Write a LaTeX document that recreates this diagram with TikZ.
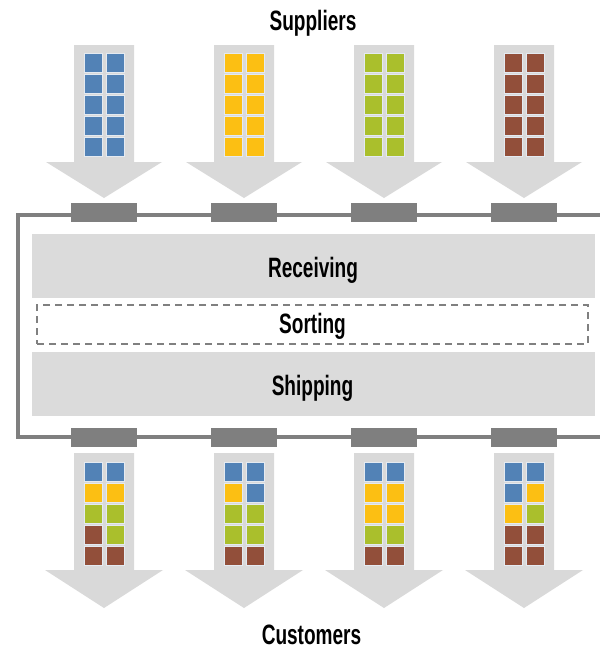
\documentclass[tikz,border=0pt]{standalone}
\usepackage{fontspec}
\newfontfamily\lblfont[FakeStretch=0.68]{Liberation Sans Bold}
\definecolor{arrowgray}{HTML}{D9D9D9}
\definecolor{bandgray}{HTML}{DBDBDB}
\definecolor{doorgray}{HTML}{7F7F7F}
\definecolor{dashgray}{HTML}{808080}
\definecolor{boxedge}{HTML}{E4EAF1}
\definecolor{cblue}{HTML}{5282B6}
\definecolor{cyellow}{HTML}{FCBF13}
\definecolor{cgreen}{HTML}{AABF2C}
\definecolor{cbrown}{HTML}{924F3A}
\begin{document}
\begin{tikzpicture}[x=1pt,y=-1pt,
  door/.style={fill=doorgray, draw=none, minimum width=66pt, minimum height=19pt, inner sep=0pt},
  band/.style={fill=bandgray, draw=none, minimum width=563pt, minimum height=64pt, inner sep=0pt},
  sortbox/.style={draw=dashgray, line width=1.5pt, dash pattern=on 7pt off 5pt, fill=white, minimum width=551pt, minimum height=39pt, inner sep=0pt},
  lbl/.style={font=\lblfont\fontsize{28}{30}\selectfont, anchor=base, inner sep=0pt},
  sq/.style={inner sep=0pt, minimum width=18pt, minimum height=19pt, draw=boxedge, line width=0.8pt},
  wall/.style={draw=doorgray, line width=4pt}]
\useasboundingbox (0,0) rectangle (600,651);
\fill[white] (0,0) rectangle (600,651);

% titles
\node[lbl] (suppliers) at (313,30) {Suppliers};
\node[lbl] (customers) at (311.5,644) {Customers};

% top arrows (suppliers)
\foreach \c/\col [count=\i] in {104/cblue,244/cyellow,384/cgreen,524/cbrown} {
  \fill[arrowgray] (\c-30,45) -- (\c+30,45) -- (\c+30,162) -- (\c+58,162) -- (\c,198) -- (\c-58,162) -- (\c-30,162) -- cycle;
  \foreach \r in {0,...,4} {
    \node[sq,fill=\col] (ts-\i-\r-a) at (\c-11,62.5+21*\r) {};
    \node[sq,fill=\col] (ts-\i-\r-b) at (\c+11,62.5+21*\r) {};
  }
}

% building wall
\draw[wall] (600,215) -- (18,215) -- (18,437) -- (600,437);
\foreach \c [count=\i] in {104,244,384,524} {
  \node[door] (tdoor\i) at (\c,212.5) {};
  \node[door] (bdoor\i) at (\c,437.5) {};
}

% areas
\node[band] (recv) at (313.5,265.5) {};
\node[lbl] (recvlbl) at (313,277) {Receiving};
\node[sortbox] (sort) at (312.5,324.5) {};
\node[lbl] (sortlbl) at (312.5,333) {Sorting};
\node[band] (ship) at (313.5,383.5) {};
\node[lbl] (shiplbl) at (312.5,395) {Shipping};

% bottom arrows (customers)
\foreach \c in {104,244,384,524} {
  \fill[arrowgray] (\c-30,453) -- (\c+30,453) -- (\c+30,570) -- (\c+59,570) -- (\c,608) -- (\c-59,570) -- (\c-30,570) -- cycle;
}
\foreach \r/\L/\R in {0/cblue/cblue,1/cyellow/cyellow,2/cgreen/cgreen,3/cbrown/cgreen,4/cbrown/cbrown} {
  \node[sq,fill=\L] (bs-1-\r-a) at (93,471.5+21.2*\r) {};
  \node[sq,fill=\R] (bs-1-\r-b) at (115,471.5+21.2*\r) {};
}
\foreach \r/\L/\R in {0/cblue/cblue,1/cyellow/cblue,2/cgreen/cgreen,3/cgreen/cgreen,4/cbrown/cbrown} {
  \node[sq,fill=\L] (bs-2-\r-a) at (233,471.5+21.2*\r) {};
  \node[sq,fill=\R] (bs-2-\r-b) at (255,471.5+21.2*\r) {};
}
\foreach \r/\L/\R in {0/cblue/cblue,1/cyellow/cyellow,2/cyellow/cyellow,3/cgreen/cgreen,4/cbrown/cbrown} {
  \node[sq,fill=\L] (bs-3-\r-a) at (373,471.5+21.2*\r) {};
  \node[sq,fill=\R] (bs-3-\r-b) at (395,471.5+21.2*\r) {};
}
\foreach \r/\L/\R in {0/cblue/cblue,1/cblue/cyellow,2/cyellow/cgreen,3/cbrown/cbrown,4/cbrown/cbrown} {
  \node[sq,fill=\L] (bs-4-\r-a) at (513,471.5+21.2*\r) {};
  \node[sq,fill=\R] (bs-4-\r-b) at (535,471.5+21.2*\r) {};
}
\end{tikzpicture}
\end{document}
